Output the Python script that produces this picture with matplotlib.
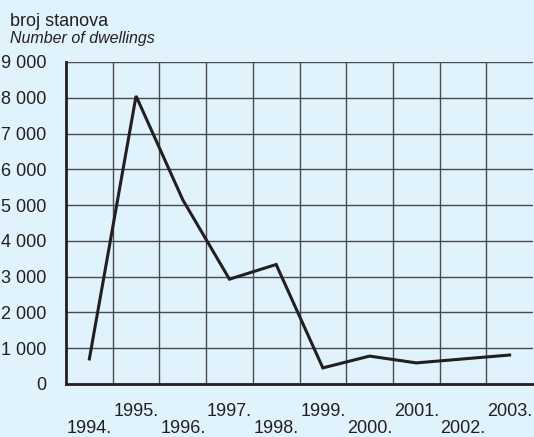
import matplotlib.pyplot as plt
import numpy as np

# data
years = ['1994.', '1995.', '1996.', '1997.', '1998.', '1999.', '2000.', '2001.', '2002.', '2003.']
dwellings = [700, 8050, 5150, 2930, 3340, 450, 780, 590, 700, 810]
y_ticks = [0, 1000, 2000, 3000, 4000, 5000, 6000, 7000, 8000, 9000]
y_labels = ['0', '1 000', '2 000', '3 000', '4 000', '5 000', '6 000', '7 000', '8 000', '9 000']

bg = '#e0f2fc'
plt.rcParams['font.family'] = ['Liberation Sans', 'DejaVu Sans']

fig = plt.figure(figsize=(5.34, 4.37), dpi=100, facecolor=bg)
ax = fig.add_axes([66 / 534, 1 - 384 / 437, 467 / 534, 322 / 437])
ax.set_facecolor(bg)

x = np.arange(len(years))
ax.plot(x, dwellings, color='#231f20', lw=2.2, solid_joinstyle='miter', zorder=3)

ax.set_xlim(-0.5, len(years) - 0.5)
ax.set_ylim(0, 9000)

# grid: horizontal at each 1000, vertical at cell borders
ax.set_yticks(y_ticks)
ax.set_yticklabels(y_labels, fontsize=13, color='#231f20')
ax.set_xticks(np.arange(0.5, len(years) - 1, 1.0), minor=True)
ax.grid(True, axis='y', which='major', color='#4a4a4a', lw=1.0)
ax.grid(True, axis='x', which='minor', color='#4a4a4a', lw=1.0)
ax.tick_params(axis='y', length=0, pad=14)

# alternating two-row x labels
xlabels = [('\n' + y) if i % 2 == 0 else y for i, y in enumerate(years)]
ax.set_xticks(x)
ax.set_xticklabels(xlabels, fontsize=13, color='#231f20', linespacing=1.0)
ax.tick_params(axis='x', which='both', length=0, pad=13.5)

for side in ['top', 'right']:
    ax.spines[side].set_visible(False)
ax.spines['left'].set_linewidth(2)
ax.spines['bottom'].set_linewidth(2)
ax.spines['left'].set_color('#231f20')
ax.spines['bottom'].set_color('#231f20')

fig.text(10 / 534, 1 - 21 / 437, 'broj stanova', fontsize=13, color='#231f20', va='center')
fig.text(10 / 534, 1 - 39 / 437, 'Number of dwellings', fontsize=11.5, style='italic',
         color='#231f20', va='center')

fig.savefig('out.png', dpi=100, facecolor=bg)
